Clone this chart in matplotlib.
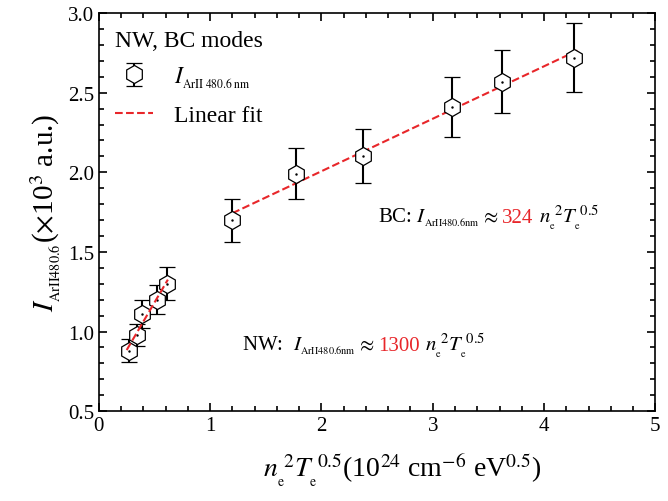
import numpy as np
import matplotlib
matplotlib.use("Agg")
import matplotlib.pyplot as plt

plt.rcParams['font.family'] = ['Liberation Serif', 'DejaVu Serif']
plt.rcParams['mathtext.fontset'] = 'stix'

# NW mode data
nw_x = [0.27, 0.34, 0.39, 0.52, 0.61]
nw_y = [0.88, 0.98, 1.11, 1.20, 1.30]
nw_err = [0.07, 0.07, 0.09, 0.09, 0.105]

# BC mode data
bc_x = [1.20, 1.77, 2.37, 3.17, 3.62, 4.27]
bc_y = [1.70, 1.99, 2.10, 2.41, 2.57, 2.72]
bc_err = [0.135, 0.16, 0.17, 0.19, 0.20, 0.215]

RED = '#e8262a'

fig = plt.figure(figsize=(6.68, 5.02), dpi=100)
ax = fig.add_axes([0.148, 0.179, 0.833, 0.793])

all_x = nw_x + bc_x
all_y = nw_y + bc_y
all_err = nw_err + bc_err
h_pts = ax.errorbar(all_x, all_y, yerr=all_err, fmt='h', color='k', mfc='white', mec='k',
                    ms=13, mew=0.9, ecolor='k', elinewidth=1.5, capsize=6, capthick=1.5,
                    zorder=3)
ax.plot(all_x, all_y, '.', color='k', ms=1.5, zorder=4)

# linear fits
p_nw = np.polyfit(nw_x, nw_y, 1)
xs = np.array([0.25, 0.62])
ax.plot(xs, np.polyval(p_nw, xs), '--', color=RED, lw=1.5, zorder=5)
p_bc = np.polyfit(bc_x, bc_y, 1)
xs = np.array([1.2, 4.3])
h_fit, = ax.plot(xs, np.polyval(p_bc, xs), '--', color=RED, lw=1.5, zorder=2)

ax.set_xlim(0, 5)
ax.set_ylim(0.5, 3.0)
ax.set_xticks([0, 1, 2, 3, 4, 5])
ax.set_xticks(np.arange(0, 5.01, 0.2), minor=True)
ax.set_yticks([0.5, 1.0, 1.5, 2.0, 2.5, 3.0])
ax.set_yticks(np.arange(0.5, 3.01, 0.1), minor=True)
ax.yaxis.set_major_formatter(matplotlib.ticker.FormatStrFormatter('%.1f'))
ax.tick_params(which='both', direction='in', top=True, right=True, labelsize=15, width=1.2)
ax.tick_params(which='major', length=6)
ax.tick_params(which='minor', length=3.5)
for s in ax.spines.values():
    s.set_linewidth(1.2)

ax.set_xlabel(r'$n_{_{\mathrm{e}}}^{\ 2}T_{_{\mathrm{e}}}^{\ 0.5}$(10$^{24}$ cm$^{-6}$ eV$^{0.5}$)',
              fontsize=20)
ax.xaxis.set_label_coords(0.545, -0.1)
ax.set_ylabel(r'$I_{_{\mathrm{ArII480.6}}}$($\times$10$^{3}$ a.u.)', fontsize=21, labelpad=4)

leg = ax.legend([h_pts, h_fit], [r'$I_{_{\mathrm{ArII\ 480.6\ nm}}}$', 'Linear fit'],
                loc='upper left', frameon=False, fontsize=17, title='NW, BC modes',
                title_fontsize=17, handlelength=1.6, borderaxespad=0.3, labelspacing=0.6,
                handletextpad=0.9)
leg._legend_box.align = 'left'


def chain_text(x, y, parts, size=15):
    fig.canvas.draw()
    px, py = ax.transData.transform((x, y))
    for s, c in parts:
        txt = fig.text(px / fig.dpi / fig.get_figwidth(), py / fig.dpi / fig.get_figheight(),
                       s, color=c, fontsize=size, va='baseline')
        fig.canvas.draw()
        px += txt.get_window_extent().width


tail = r'$\approx$ '
law = r' $n_{_{\mathrm{e}}}^{\ 2}T_{_{\mathrm{e}}}^{\ 0.5}$'
chain_text(2.51, 1.69, [(r'BC: $I_{_{\mathrm{ArII480.6nm}}}$', 'k'), (tail, 'k'),
                        ('324', RED), (law, 'k')])
chain_text(1.29, 0.885, [(r'NW:  $I_{_{\mathrm{ArII480.6nm}}}$', 'k'), (tail, 'k'),
                         ('1300', RED), (law, 'k')])

fig.savefig('out.png', dpi=100)
